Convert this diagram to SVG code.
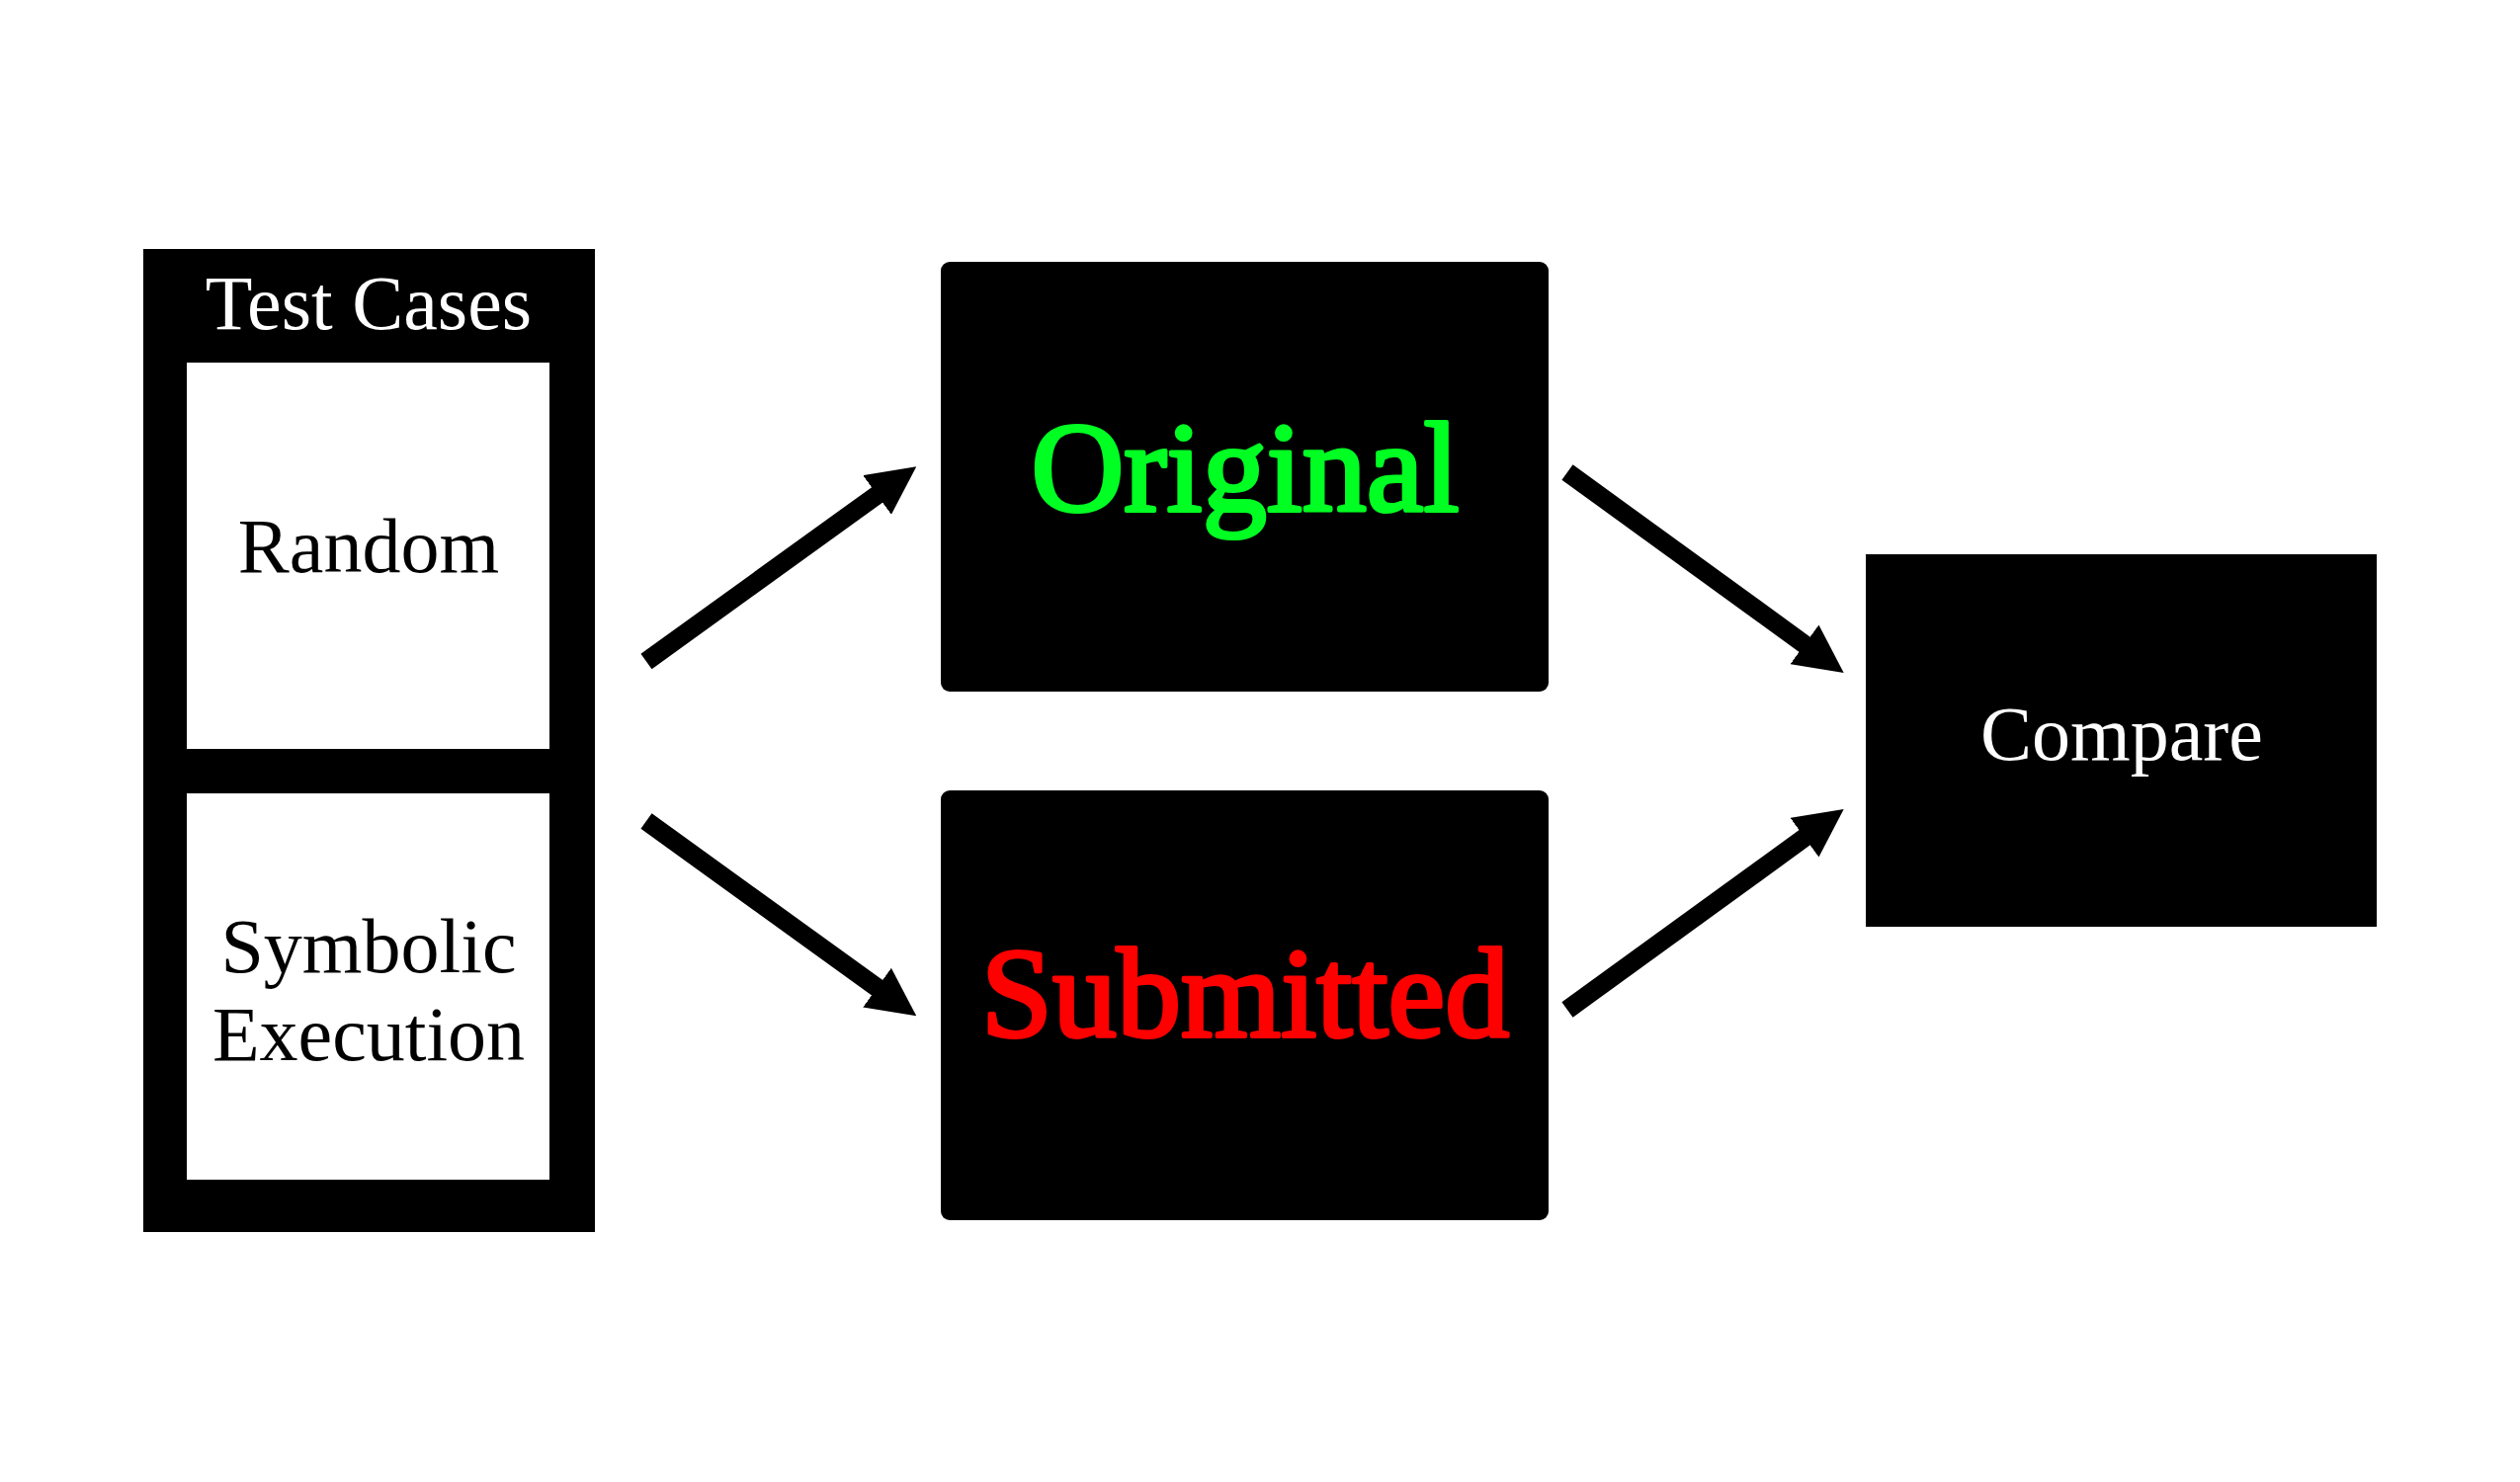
<svg xmlns="http://www.w3.org/2000/svg" width="2550" height="1500" viewBox="0 0 2550 1500">
<defs>
<style>
.lbl{font-family:"Liberation Serif","Times New Roman",serif;text-anchor:middle}
.sm{font-size:78px}
.big{font-size:130px;stroke-width:4;stroke-linejoin:round}
.conn{stroke:#000;stroke-width:19;fill:none;marker-end:url(#ah)}
</style>
<marker id="ah" markerUnits="userSpaceOnUse" markerWidth="49" markerHeight="49" refX="4" refY="24.5" orient="auto" viewBox="0 0 49 49">
<path d="M0,0 L49,24.5 L0,49 Z" fill="#000"/>
</marker>
</defs>
<rect x="0" y="0" width="2550" height="1500" fill="#fff"/>
<g id="test-cases">
<rect x="145" y="252" width="457" height="995" fill="#000"/>
<text class="lbl sm" x="373" y="333" fill="#fff">Test Cases</text>
</g>
<g id="random">
<rect x="189" y="367" width="367" height="391" fill="#fff"/>
<text class="lbl sm" x="373" y="579" fill="#000">Random</text>
</g>
<g id="symbolic">
<rect x="189" y="803" width="367" height="391" fill="#fff"/>
<text class="lbl sm" x="373" y="984" fill="#000">Symbolic</text>
<text class="lbl sm" x="373" y="1073" fill="#000">Execution</text>
</g>
<g id="original">
<rect x="952" y="265" width="615" height="435" rx="9" fill="#000"/>
<text class="lbl big" x="1260" y="517" fill="#00ff22" stroke="#00ff22">Original</text>
</g>
<g id="submitted">
<rect x="952" y="800" width="615" height="435" rx="9" fill="#000"/>
<text class="lbl big" x="1260" y="1049" fill="#ff0000" stroke="#ff0000">Submitted</text>
</g>
<g id="compare">
<rect x="1888" y="561" width="517" height="377" fill="#000"/>
<text class="lbl sm" x="2147" y="769" fill="#fff">Compare</text>
</g>
<g id="connectors">
<line class="conn" x1="654" y1="669.5" x2="890.8" y2="498.6"/>
<line class="conn" x1="654" y1="831" x2="890.8" y2="1002"/>
<line class="conn" x1="1586" y1="478" x2="1829.3" y2="654.6"/>
<line class="conn" x1="1586" y1="1022" x2="1829.3" y2="845.4"/>
</g>
</svg>
